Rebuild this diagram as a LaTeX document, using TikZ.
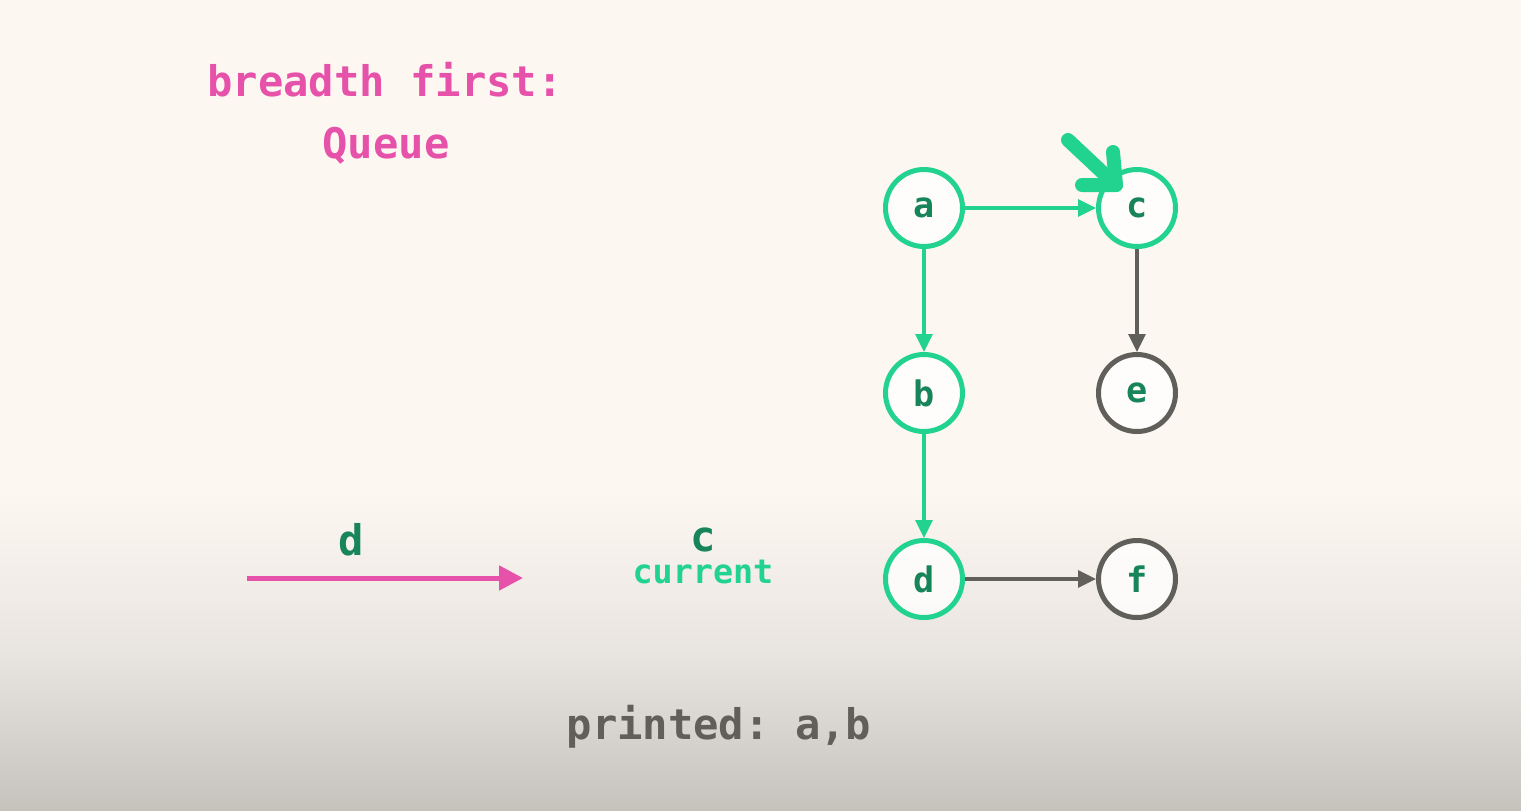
\documentclass[tikz,border=0pt]{standalone}
\usepackage{fontspec}
\setmonofont{DejaVu Sans Mono}
\usetikzlibrary{arrows.meta}

\definecolor{cream}{HTML}{FDF7F1}
\definecolor{midgrey}{HTML}{E9E5E0}
\definecolor{greige}{HTML}{C6C2BC}
\definecolor{hotpink}{HTML}{E652AA}
\definecolor{mint}{HTML}{22D38F}
\definecolor{forest}{HTML}{18845A}
\definecolor{slate}{HTML}{615F5A}

\newcommand*{\picw}{15.21}
\newcommand*{\pich}{8.10}

\begin{document}
\begin{tikzpicture}
[
	vertex/.style={circle,draw=mint,line width=0.05cm,fill=white,fill opacity=0.8,text opacity=1,
		minimum size=0.77cm,inner sep=0pt,text=forest,font=\ttfamily\bfseries\fontsize{10}{11}\selectfont},
	done/.style={vertex,draw=slate},
	label/.style={font=\ttfamily\bfseries\fontsize{12}{14}\selectfont},
	edge/.style={line width=0.033cm,-{Triangle[length=0.18cm,width=0.17cm]}},
]

	% background
	\useasboundingbox (0,0) rectangle (\picw,\pich);
	\fill[cream] (0,3.2) rectangle (\picw,\pich);
	\shade[top color=cream,bottom color=midgrey] (0,1.6) rectangle (\picw,3.2);
	\shade[top color=midgrey,bottom color=greige] (0,0) rectangle (\picw,1.6);

	% titles
	\node[label,text=hotpink] (title) at (3.85,7.30) {breadth first:};
	\node[label,text=hotpink] (kind) at (3.86,6.64) {Queue};

	% queue
	\coordinate (qin) at (2.47,2.32);
	\coordinate (qout) at (5.23,2.32);
	\draw[hotpink,line width=0.05cm,-{Triangle[length=0.24cm,width=0.24cm]}] (qin) -- (qout);
	\node[label,text=forest] (qitem) at (3.51,2.70) {d};
	\node[label,text=forest] (cur) at (7.03,2.70) {c};
	\node[text=mint,font=\ttfamily\bfseries\fontsize{9.5}{10}\selectfont] (curtag) at (7.03,2.38) {current};

	% graph
	\node[vertex] (a) at (9.24,6.02) {a};
	\node[vertex] (c) at (11.37,6.02) {c};
	\node[vertex] (b) at (9.24,4.17) {b};
	\node[done] (e) at (11.37,4.17) {e};
	\node[vertex] (d) at (9.24,2.31) {d};
	\node[done] (f) at (11.37,2.31) {f};

	\draw[edge,mint] (a) -- (c);
	\draw[edge,mint] (a) -- (b);
	\draw[edge,mint] (b) -- (d);
	\draw[edge,slate] (c) -- (e);
	\draw[edge,slate] (d) -- (f);

	% pointer
	\coordinate (ptail) at (10.68,6.70);
	\coordinate (ptip) at (11.16,6.25);
	\draw[mint,line width=0.14cm,line cap=round,line join=round] (ptail) -- (ptip);
	\draw[mint,line width=0.14cm,line cap=round,line join=round] (10.82,6.25) -- (ptip) -- (11.13,6.58);

	% output
	\node[label,text=slate] (out) at (7.19,0.83) {printed: a,b};

\end{tikzpicture}
\end{document}
